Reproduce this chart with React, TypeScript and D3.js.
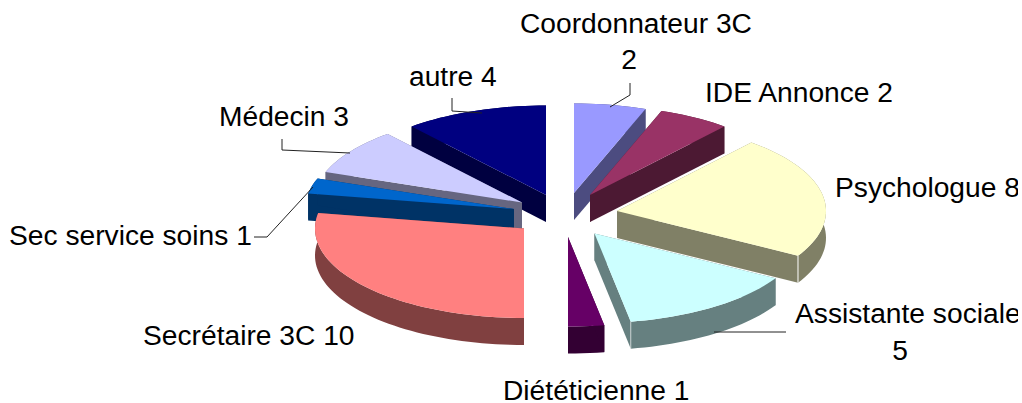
import React from "react";
import * as d3 from "d3";

// ---- data
const categories = ["Coordonnateur 3C", "IDE Annonce", "Psychologue", "Assistante sociale", "Diététicienne", "Secrétaire 3C", "Sec service soins", "Médecin", "autre"];
const values = [2, 2, 8, 5, 1, 10, 1, 3, 4];
const topColors = ["#9999FF", "#993366", "#FFFFCC", "#CCFFFF", "#660066", "#FF8080", "#0066CC", "#CCCCFF", "#000080"];
const wallColors = ["#4C4C80", "#4C1933", "#808066", "#668080", "#330033", "#804040", "#003366", "#666680", "#000040"];

// ---- layout of the exploded slices (apex of each slice)
const apexX = [574, 590, 617, 594.5, 568, 524, 514, 522, 546];
const apexY = [193, 195, 211, 233.5, 237, 228.5, 209, 202.5, 195];
const drawOrder = [8, 7, 6, 5, 0, 1, 2, 3, 4];
const RX = 209, RY = 89.5, DEPTH = 27;

const W = 1018, H = 403;

// label layout
const labels: { text: string; x: number; y: number; anchor?: "middle" | "start" }[] = [
  { text: "Coordonnateur 3C", x: 520, y: 33 },
  { text: "2", x: 629, y: 69, anchor: "middle" },
  { text: "IDE Annonce 2", x: 705, y: 102 },
  { text: "Psychologue 8", x: 835, y: 197 },
  { text: "Assistante sociale", x: 795, y: 323 },
  { text: "5", x: 900, y: 360, anchor: "middle" },
  { text: "Diététicienne 1", x: 503, y: 400 },
  { text: "Secrétaire 3C 10", x: 143, y: 345 },
  { text: "Sec service soins 1", x: 9, y: 245 },
  { text: "Médecin 3", x: 219, y: 126 },
  { text: "autre 4", x: 409, y: 86 },
];
const leaders: [number, number][][] = [
  [[630, 83], [630, 95], [610, 107]],
  [[452, 98], [452, 111], [482, 113]],
  [[282, 139], [282, 150], [350, 153]],
  [[254, 237], [267, 237], [313, 187]],
  [[786, 332], [714, 332]],
];

const pieGen = d3.pie<number>().sort(null).startAngle(0).endAngle(2 * Math.PI);
const lineGen = d3.line<[number, number]>().x((d) => d[0]).y((d) => d[1]);

export default function App() {
  const arcs = pieGen(values);
  return (
    <svg width={W} height={H} style={{ position: "absolute", left: 0, top: 0, display: "block" }} fontFamily="'Liberation Sans', Arial, sans-serif">
      {drawOrder.map((i) => {
        const a = arcs[i];
        const cx = apexX[i], cy = apexY[i];
        const n = Math.max(2, Math.round((a.endAngle - a.startAngle) * 30));
        const arcPts: [number, number][] = d3.range(n + 1).map((k) => {
          const t = a.startAngle + ((a.endAngle - a.startAngle) * k) / n;
          return [cx + RX * Math.sin(t), cy - RY * Math.cos(t)];
        });
        const down = (p: [number, number]): [number, number] => [p[0], p[1] + DEPTH];
        const apex: [number, number] = [cx, cy];
        const first = arcPts[0], last = arcPts[arcPts.length - 1];
        const outer = [...arcPts, ...arcPts.map(down).reverse()];
        const side1 = [apex, first, down(first), down(apex)];
        const side2 = [apex, last, down(last), down(apex)];
        const top = [apex, ...arcPts];
        const edge = i === 2 || i === 3 ? last : null;
        return (
          <g key={categories[i]}>
            <path d={lineGen(outer)! + "Z"} fill={wallColors[i]} />
            <path d={lineGen(side1)! + "Z"} fill={wallColors[i]} />
            <path d={lineGen(side2)! + "Z"} fill={wallColors[i]} />
            <path d={lineGen(top)! + "Z"} fill={topColors[i]} />
            {edge ? (
              <path d={lineGen([edge, down(edge)])!} stroke="#fff" strokeOpacity={i === 2 ? 1 : 0.6} strokeWidth={1} fill="none" />
            ) : null}
          </g>
        );
      })}
      {leaders.map((pts, i) => (
        <path key={i} d={lineGen(pts)!} fill="none" stroke="#222" strokeWidth={1} />
      ))}
      {labels.map((l) => (
        <text key={l.text} x={l.x} y={l.y} fontSize={28.2} fill="#000" textAnchor={l.anchor ?? "start"}>
          {l.text}
        </text>
      ))}
    </svg>
  );
}
